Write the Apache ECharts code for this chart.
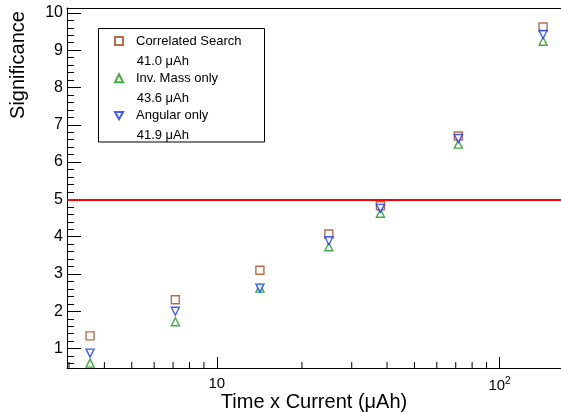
<!DOCTYPE html>
<html>
<head>
<meta charset="utf-8">
<script src="https://cdn.jsdelivr.net/npm/echarts@6/dist/echarts.min.js"></script>
<style>
  html, body { margin: 0; padding: 0; background: #fff; }
  #chart { width: 561px; height: 412px; }
</style>
</head>
<body>
<div id="chart"></div>
<script>
// time x current (uAh) for each point
const exposure = [3.56, 7.13, 14.2, 24.9, 37.9, 71.5, 142.6];
const correlated = [1.34, 2.31, 3.10, 4.07, 4.83, 6.70, 9.62];
const invMass = [0.61, 1.72, 2.62, 3.73, 4.63, 6.48, 9.24];
const angular = [0.88, 2.00, 2.62, 3.89, 4.76, 6.63, 9.42];

const seriesNames = ['Correlated Search', 'Inv. Mass only', 'Angular only'];
const discoveryAt = ['41.0 μAh', '43.6 μAh', '41.9 μAh'];
const xMinorTicks = [3, 4, 5, 6, 7, 8, 9, 20, 30, 40, 50, 60, 70, 80, 90];

const xMin = 2.95, xMax = 165;
const yMin = 0.48, yMax = 10.13;
const font = 'Liberation Sans, Arial, sans-serif';

const colors = ['#a8471f', '#119911', '#1133ff'];

const chart = echarts.init(document.getElementById('chart'));

const pairs = (ys) => exposure.map((x, i) => [x, ys[i]]);

const pointSeries = (name, ys, color, symbol, size) => ({
  name: name,
  type: 'scatter',
  data: pairs(ys),
  symbol: symbol,
  symbolSize: size,
  itemStyle: { color: '#fff', borderColor: color, borderWidth: 1.4 },
  z: 3
});

const corrSeries = pointSeries(seriesNames[0], correlated, colors[0], 'rect', 8);
corrSeries.markLine = {
  silent: true,
  symbol: 'none',
  label: { show: false },
  lineStyle: { color: '#ff0000', width: 2, type: 'solid' },
  data: [{ yAxis: 5 }]
};

const option = {
  animation: false,
  grid: { left: 67, right: 0, top: 8, bottom: 44, outerBoundsMode: 'none' },
  xAxis: [{
    type: 'log',
    min: xMin,
    max: xMax,
    name: 'Time x Current (μAh)',
    nameLocation: 'middle',
    nameGap: 24,
    nameMoveOverlap: false,
    nameTextStyle: { fontFamily: font, fontSize: 20, color: '#000' },
    axisLine: { lineStyle: { color: '#000', width: 1 } },
    axisTick: { inside: true, length: 11, lineStyle: { color: '#000' } },
    splitLine: { show: false },
    axisLabel: {
      showMinLabel: false,
      showMaxLabel: false,
      margin: 8,
      fontFamily: font,
      fontSize: 15,
      color: '#000',
      formatter: (v) => {
        const p = Math.round(Math.log10(v));
        if (Math.abs(Math.log10(v) - p) > 1e-6) return '';
        if (p === 1) return '10';
        return '{b|10}{s|' + p + '}';
      },
      rich: {
        b: { fontFamily: font, fontSize: 15, color: '#000' },
        s: { fontFamily: font, fontSize: 10, color: '#000', padding: [0, 0, 9, 0] }
      }
    }
  }, {
    type: 'log',
    position: 'top',
    min: xMin,
    max: xMax,
    axisLine: { lineStyle: { color: '#000', width: 1 } },
    axisTick: { show: false },
    axisLabel: { show: false },
    splitLine: { show: false }
  }],
  yAxis: {
    type: 'value',
    min: yMin,
    max: yMax,
    splitNumber: 10,
    axisLine: { show: true, lineStyle: { color: '#000', width: 1 } },
    axisTick: { inside: true, length: 14, lineStyle: { color: '#000' } },
    minorTick: { show: true, splitNumber: 5, length: 7, lineStyle: { color: '#000' } },
    splitLine: { show: false },
    axisLabel: {
      showMinLabel: false,
      showMaxLabel: false,
      margin: 4,
      fontFamily: font,
      fontSize: 16,
      color: '#000'
    }
  },
  legend: {
    orient: 'vertical',
    left: 109,
    top: 29,
    itemWidth: 8,
    itemHeight: 8,
    itemGap: 23.3,
    data: seriesNames,
    textStyle: { fontFamily: font, fontSize: 13, color: '#000', lineHeight: 14, padding: [0, 0, 0, 8] }
  },
  graphic: [
    {
      type: 'rect',
      shape: { x: 98.5, y: 28.5, width: 166, height: 113.5 },
      style: { fill: 'none', stroke: '#000', lineWidth: 1 },
      z: 1
    },
    ...discoveryAt.map((t, i) => ({
      type: 'text',
      left: 136.7,
      top: 54.5 + i * 37.3,
      style: { text: t, fontFamily: font, fontSize: 13, fill: '#000' },
      z: 5
    })),
    {
      type: 'text',
      x: 18,
      y: 65,
      rotation: Math.PI / 2,
      style: {
        text: 'Significance',
        fontFamily: font,
        fontSize: 20,
        fill: '#000',
        align: 'center',
        verticalAlign: 'middle'
      }
    }
  ],
  series: [
    corrSeries,
    pointSeries(seriesNames[1], invMass, colors[1], 'triangle', 8),
    pointSeries(seriesNames[2], angular, colors[2], 'path://M0,0L10,0L5,9Z', 8),
    {
      type: 'custom',
      silent: true,
      data: xMinorTicks.map((v) => [v, yMin]),
      clip: false,
      renderItem: (params, api) => {
        const p = api.coord([api.value(0), api.value(1)]);
        return {
          type: 'line',
          shape: { x1: p[0], y1: p[1], x2: p[0], y2: p[1] - 6 },
          style: { stroke: '#000', lineWidth: 1 }
        };
      },
      z: 4
    }
  ]
};

chart.setOption(option);
window.addEventListener('resize', () => chart.resize());
</script>
</body>
</html>
